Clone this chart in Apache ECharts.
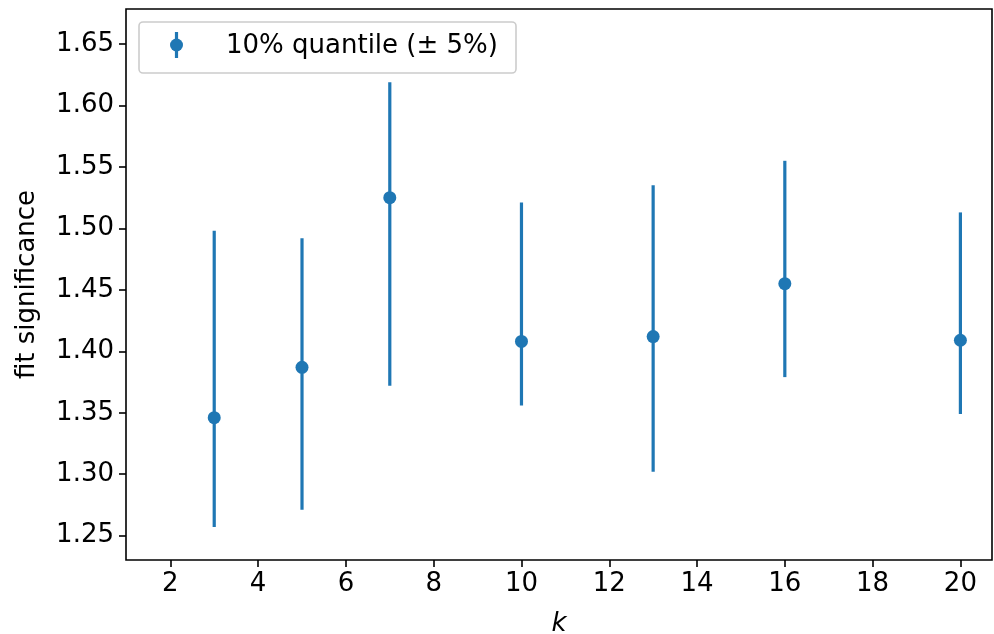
<!DOCTYPE html>
<html>
<head>
<meta charset="utf-8">
<script src="https://cdn.jsdelivr.net/npm/echarts@6/dist/echarts.min.js"></script>
<style>
  html, body { margin: 0; padding: 0; background: #fff; }
  #chart { width: 994px; height: 634px; }
</style>
</head>
<body>
<div id="chart"></div>
<script>
// Number of neighbours k and the 10% quantile of the fit significance,
// with the lower / upper ends of its ±5% quantile band.
const kValues  = [3, 5, 7, 10, 13, 16, 20];
const quantile = [1.346, 1.387, 1.525, 1.408, 1.412, 1.455, 1.409];
const lower    = [1.257, 1.271, 1.372, 1.356, 1.302, 1.379, 1.349];
const upper    = [1.498, 1.492, 1.619, 1.521, 1.535, 1.555, 1.513];

const xTicks = [2, 4, 6, 8, 10, 12, 14, 16, 18, 20];
const yTicks = [1.25, 1.30, 1.35, 1.40, 1.45, 1.50, 1.55, 1.60, 1.65];

const seriesName = '10% quantile (± 5%)';
const blue = '#1f77b4';
const font = 'DejaVu Sans';
const fs = 26;

const points = kValues.map((k, i) => [k, quantile[i]]);
const bars = kValues.map((k, i) => [k, lower[i], upper[i]]);

const chart = echarts.init(document.getElementById('chart'), null, { renderer: 'canvas' });

chart.setOption({
  animation: false,
  backgroundColor: '#ffffff',
  grid: {
    left: 126, right: 2, top: 9, bottom: 74,
    outerBoundsMode: 'none', containLabel: false,
    show: true, borderColor: '#000', borderWidth: 1.6, backgroundColor: 'transparent'
  },
  xAxis: {
    type: 'value', min: 0.99, max: 20.72,
    name: 'k', nameLocation: 'middle', nameGap: 51,
    nameTextStyle: { fontFamily: font, fontSize: fs, fontStyle: 'italic', color: '#000' },
    axisLine: { show: false },
    splitLine: { show: false },
    axisTick: { show: true, length: 7, lineStyle: { color: '#000', width: 1.6 }, customValues: xTicks },
    axisLabel: { margin: 11, fontFamily: font, fontSize: fs, color: '#000', customValues: xTicks,
                 formatter: v => String(v) }
  },
  yAxis: {
    type: 'value', min: 1.2302, max: 1.6785,
    name: 'fit significance', nameLocation: 'middle', nameGap: 86, nameRotate: 90,
    nameTextStyle: { fontFamily: font, fontSize: fs, color: '#000' },
    axisLine: { show: false },
    splitLine: { show: false },
    axisTick: { show: true, length: 7, lineStyle: { color: '#000', width: 1.6 }, customValues: yTicks },
    axisLabel: { margin: 12, fontFamily: font, fontSize: fs, color: '#000', customValues: yTicks,
                 formatter: v => v.toFixed(2) }
  },
  series: [
    {
      name: seriesName,
      type: 'custom',
      data: bars,
      z: 2,
      renderItem: function (params, api) {
        const top = api.coord([api.value(0), api.value(2)]);
        const bot = api.coord([api.value(0), api.value(1)]);
        return {
          type: 'line',
          shape: { x1: top[0], y1: top[1], x2: bot[0], y2: bot[1] },
          style: { stroke: blue, lineWidth: 3.2 }
        };
      }
    },
    {
      name: seriesName,
      type: 'scatter',
      data: points,
      symbol: 'circle',
      symbolSize: 13,
      z: 3,
      itemStyle: { color: blue, opacity: 1 }
    }
  ],
  graphic: [
    {
      type: 'rect', z: 10,
      shape: { x: 139, y: 22, width: 377, height: 51, r: 4 },
      style: { fill: 'rgba(255,255,255,0.8)', stroke: '#cccccc', lineWidth: 1.6 }
    },
    {
      type: 'line', z: 11,
      shape: { x1: 176.5, y1: 32, x2: 176.5, y2: 58 },
      style: { stroke: blue, lineWidth: 3.2 }
    },
    {
      type: 'circle', z: 11,
      shape: { cx: 176.5, cy: 45, r: 6.5 },
      style: { fill: blue }
    },
    {
      type: 'text', z: 11, x: 226, y: 46,
      style: { text: seriesName, fontFamily: font, fontSize: fs, fill: '#000', verticalAlign: 'middle', align: 'left' }
    }
  ]
});
</script>
</body>
</html>
